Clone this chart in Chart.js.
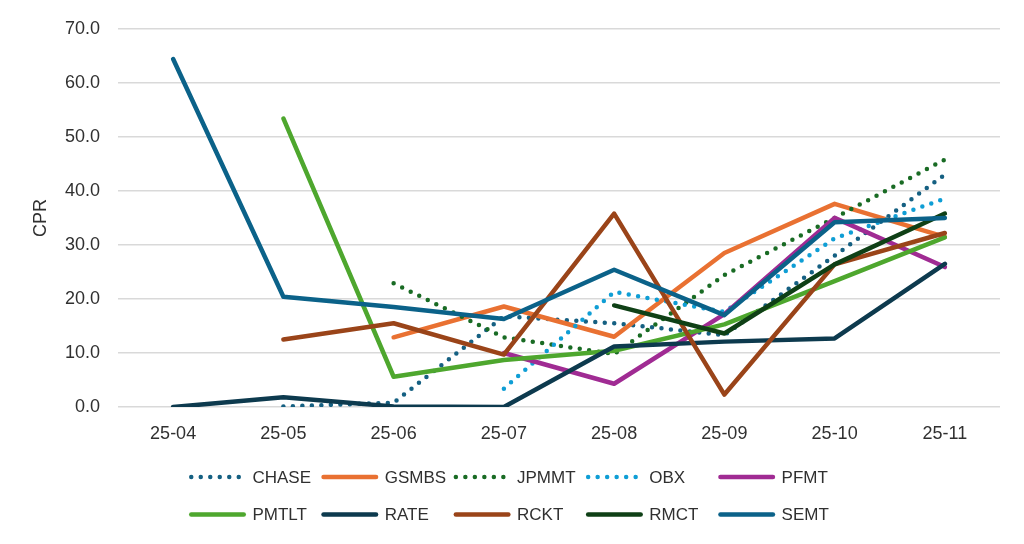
<!DOCTYPE html>
<html>
<head>
<meta charset="utf-8">
<title>CPR by shelf</title>
<script src="https://cdn.jsdelivr.net/npm/chart.js@4.4.1/dist/chart.umd.min.js"></script>
<style>
  body { margin: 0; background: #fff; }
  #wrap { width: 1024px; height: 544px; position: relative; }
</style>
</head>
<body>
<div id="wrap"><canvas id="myChart"></canvas></div>
<script>
// months on the x axis
var months = ['25-04', '25-05', '25-06', '25-07', '25-08', '25-09', '25-10', '25-11'];

// CPR per shelf, null where the shelf has no deal yet
var chase = [null, 0.1, 0.8, 16.8, 15.5, 13.3, 28.0, 43.0];
var gsmbs = [null, null, 12.9, 18.6, 13.0, 28.5, 37.6, 31.5];
var jpmmt = [null, null, 22.9, 12.9, 9.8, 24.4, 35.0, 45.8];
var obx   = [null, null, null, 3.4, 21.3, 17.6, 31.2, 38.6];
var pfmt  = [null, null, null, 10.0, 4.3, 17.2, 35.0, 25.9];
var pmtlt = [null, 53.4, 5.6, 8.7, 10.4, 15.3, 23.3, 31.4];
var rate  = [0.0, 1.8, 0.1, 0.0, 11.2, 12.1, 12.7, 26.5];
var rckt  = [null, 12.5, 15.5, 9.7, 35.8, 2.3, 26.4, 32.2];
var rmct  = [null, null, null, null, 18.8, 13.6, 26.4, 35.8];
var semt  = [64.4, 20.4, 18.5, 16.3, 25.4, 17.0, 34.2, 35.0];

var names = ['CHASE', 'GSMBS', 'JPMMT', 'OBX', 'PFMT', 'PMTLT', 'RATE', 'RCKT', 'RMCT', 'SEMT'];
var values = [chase, gsmbs, jpmmt, obx, pfmt, pmtlt, rate, rckt, rmct, semt];
var colors = ['#156082', '#E97132', '#196B24', '#0F9ED5', '#A02B93',
              '#4EA72E', '#0D3A4E', '#9A4419', '#0F4016', '#0B6289'];
var dotted = [true, false, true, true, false, false, false, false, false, false];

var FONT = '"Liberation Sans", Arial, sans-serif';
var TEXT = '#303030';

var datasets = [];
for (var i = 0; i < names.length; i++) {
  datasets.push({
    label: names[i],
    data: values[i],
    borderColor: colors[i],
    backgroundColor: colors[i],
    borderWidth: 4.5,
    borderDash: dotted[i] ? [0, 9.5] : [],
    borderCapStyle: 'round',
    borderJoinStyle: 'round',
    pointRadius: 0,
    pointHoverRadius: 0,
    tension: 0,
    spanGaps: false,
    order: names.length - i  // later series sit on top, like Excel
  });
}

// legend laid out in fixed columns, two rows of five
var gridLegend = {
  id: 'gridLegend',
  afterDraw: function(chart) {
    var ctx = chart.ctx;
    var colW = 132.3;
    var rowY = [477, 514.5];
    var startX = chart.width / 2 - 323;
    ctx.save();
    ctx.font = '17px ' + FONT;
    ctx.textBaseline = 'middle';
    ctx.fillStyle = TEXT;
    chart.data.datasets.forEach(function(ds, i) {
      var x = startX + (i % 5) * colW;
      var y = rowY[Math.floor(i / 5)];
      ctx.beginPath();
      ctx.lineWidth = ds.borderWidth;
      ctx.strokeStyle = ds.borderColor;
      ctx.lineCap = 'round';
      ctx.setLineDash(ds.borderDash);
      ctx.moveTo(x + 2.25, y);
      ctx.lineTo(x + (ds.borderDash.length ? 50 : 54.75), y);
      ctx.stroke();
      ctx.setLineDash([]);
      ctx.fillText(ds.label, x + 63.4, y + 1);
    });
    ctx.restore();
  }
};

var ctx = document.getElementById('myChart').getContext('2d');
new Chart(ctx, {
  type: 'line',
  data: { labels: months, datasets: datasets },
  plugins: [gridLegend],
  options: {
    responsive: true,
    maintainAspectRatio: false,
    animation: false,
    layout: { padding: { left: 0, right: 24, top: 28, bottom: 87 } },
    plugins: {
      legend: { display: false },
      tooltip: { enabled: false }
    },
    scales: {
      x: {
        offset: true,
        grid: { display: false },
        border: { display: false },
        ticks: { color: TEXT, font: { family: FONT, size: 18 }, padding: 8, maxRotation: 0 },
        afterFit: function(scale) { scale.height = 50; }
      },
      y: {
        min: 0,
        max: 70,
        grid: { color: '#D9D9D9', lineWidth: 1.5, drawTicks: false },
        border: { display: false },
        ticks: {
          stepSize: 10,
          padding: 18,
          color: TEXT,
          font: { family: FONT, size: 18 },
          callback: function(v) { return v.toFixed(1); }
        },
        title: {
          display: true,
          text: 'CPR',
          color: TEXT,
          font: { family: FONT, size: 18 },
          padding: { top: 30, bottom: 0 }
        },
        afterFit: function(scale) { scale.width = 118; }
      }
    }
  }
});
</script>
</body>
</html>
